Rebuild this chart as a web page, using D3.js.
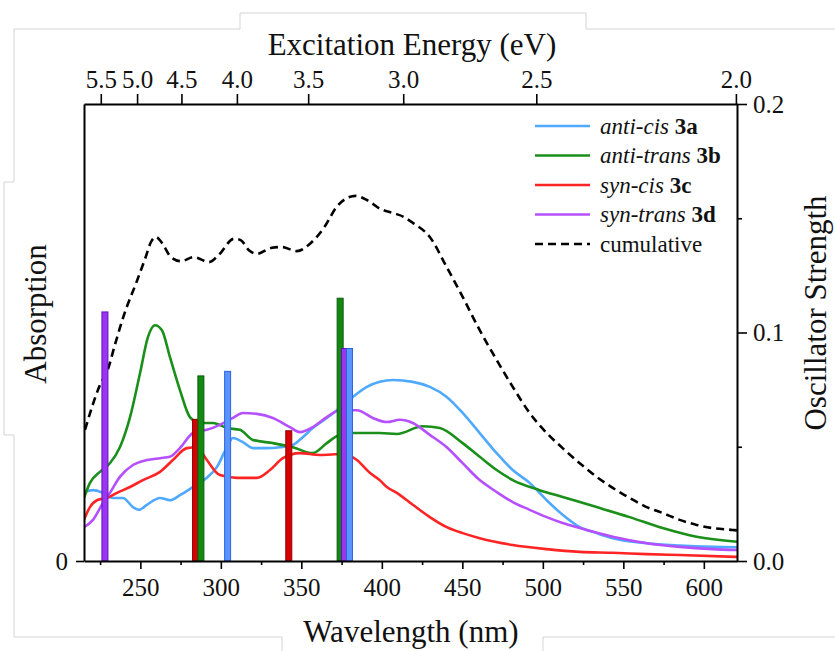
<!DOCTYPE html>
<html><head><meta charset="utf-8">
<script src="https://cdn.jsdelivr.net/npm/d3@7"></script>
<style>
html,body{margin:0;padding:0;background:#fff;}
svg{display:block;}
svg text{font-family:"Liberation Serif","Times New Roman",serif !important;}
</style></head><body>
<svg id="chart" width="835" height="651"></svg>
<script>
// ---------- data ----------
const seriesNames = ["anti-cis", "anti-trans", "syn-cis", "syn-trans", "cumulative"];
const seriesTags  = ["3a", "3b", "3c", "3d", ""];

const antiCisWl  = [215.0,220.6,226.8,233.0,239.2,245.4,249.1,254.1,262.2,268.4,274.6,282.7,291.3,297.6,303.8,307.5,313.7,319.9,328.6,336.7,344.7,350.9,357.1,365.8,373.9,382.0,390.7,398.7,406.8,419.2,429.8,440.3,450.2,460.8,471.3,481.3,491.8,502.4,512.3,522.9,533.4,543.4,564.5,585.0,605.4,620.6];
const antiCisAbs = [0.151,0.155,0.149,0.138,0.138,0.118,0.112,0.123,0.138,0.133,0.144,0.162,0.182,0.206,0.249,0.269,0.260,0.247,0.247,0.249,0.254,0.271,0.291,0.313,0.335,0.359,0.381,0.392,0.396,0.392,0.381,0.359,0.324,0.280,0.236,0.199,0.171,0.133,0.101,0.074,0.061,0.050,0.039,0.034,0.031,0.030];

const antiTransWl  = [215.0,218.7,224.9,231.1,237.3,243.6,249.8,254.7,259.1,263.4,268.4,274.6,280.8,287.0,295.1,303.8,311.8,319.9,332.3,344.7,357.1,365.8,373.9,382.0,398.7,409.3,425.4,436.0,450.2,460.8,471.3,481.3,498.0,512.3,533.4,553.9,574.4,595.5,620.6];
const antiTransAbs = [0.138,0.171,0.195,0.214,0.249,0.315,0.411,0.490,0.516,0.505,0.446,0.374,0.315,0.302,0.302,0.291,0.287,0.265,0.258,0.249,0.236,0.258,0.276,0.280,0.280,0.278,0.295,0.291,0.258,0.228,0.199,0.177,0.155,0.140,0.118,0.096,0.072,0.053,0.042];

const synCisWl  = [215.0,218.7,223.1,229.3,235.5,243.6,251.6,262.2,270.2,278.9,285.1,291.3,299.4,310.0,322.4,330.5,338.5,349.1,361.5,375.8,384.5,392.5,398.7,403.1,409.3,419.2,429.8,440.3,450.2,460.8,481.3,502.4,522.9,543.4,564.5,585.0,620.6];
const synCisAbs = [0.090,0.118,0.133,0.138,0.149,0.162,0.177,0.195,0.221,0.247,0.249,0.221,0.188,0.182,0.182,0.199,0.225,0.236,0.232,0.234,0.221,0.193,0.177,0.162,0.149,0.123,0.096,0.074,0.061,0.050,0.035,0.026,0.020,0.018,0.015,0.013,0.009];

const synTransWl  = [215.0,220.6,226.8,231.1,237.3,245.4,254.1,262.2,268.4,274.6,282.7,291.3,299.4,307.5,313.7,322.4,332.3,342.9,349.1,357.1,365.8,373.9,384.5,394.4,403.1,411.1,419.2,429.8,440.3,450.2,460.8,471.3,481.3,491.8,502.4,512.3,522.9,543.4,564.5,585.0,605.4,620.6];
const synTransAbs = [0.074,0.090,0.127,0.149,0.184,0.210,0.221,0.225,0.228,0.247,0.280,0.287,0.298,0.313,0.324,0.322,0.313,0.293,0.282,0.293,0.315,0.330,0.330,0.313,0.304,0.309,0.302,0.276,0.249,0.214,0.177,0.151,0.129,0.112,0.096,0.083,0.072,0.053,0.039,0.031,0.026,0.024];

const cumulativeWl  = [215.6,224.9,229.9,234.2,239.8,247.9,253.5,256.6,259.7,263.4,269.0,275.2,283.3,292.6,298.8,308.1,312.4,317.4,322.4,331.1,337.9,347.2,355.9,364.0,372.0,378.2,383.8,390.7,399.3,407.4,413.6,419.2,429.8,440.3,450.2,460.8,471.3,481.3,491.8,502.4,512.3,522.9,533.4,543.4,553.9,564.5,574.4,585.0,595.5,605.4,617.8,620.6];
const cumulativeAbs = [0.287,0.385,0.420,0.473,0.538,0.613,0.667,0.698,0.709,0.696,0.665,0.656,0.665,0.654,0.670,0.705,0.702,0.680,0.672,0.685,0.687,0.678,0.696,0.729,0.775,0.794,0.799,0.790,0.770,0.761,0.753,0.740,0.709,0.643,0.578,0.505,0.440,0.381,0.324,0.280,0.247,0.214,0.184,0.160,0.138,0.118,0.105,0.090,0.079,0.072,0.068,0.067];

// oscillator strength sticks
const barWl     = [228.0, 284.3, 287.6, 304.2, 342.2, 374.1, 376.8, 379.9];
const barF      = [0.109, 0.062, 0.081, 0.083, 0.057, 0.115, 0.093, 0.093];
const barSeries = [3, 2, 1, 0, 2, 1, 3, 0];

// ticks
const wlTicks      = [250, 300, 350, 400, 450, 500, 550, 600];
const wlMinorTicks = [225, 275, 325, 375, 425, 475, 525, 575];
const eVTicks      = [5.5, 5.0, 4.5, 4.0, 3.5, 3.0, 2.5, 2.0];
const fTicks       = [0, 0.1, 0.2];
const fMinorTicks  = [0.05, 0.15];
const hc = 1239.84;

// ---------- styles ----------
const lineColors = ["#4ea9ff", "#1a8f1a", "#ff2424", "#b650ff", "#000"];
const barFill    = ["#5a95ff", "#128a12", "#d80000", "#9a35f0"];
const barStroke  = ["#2f63e0", "#0a5a0a", "#8c0000", "#6410c0"];
const FONT = "'Liberation Serif', 'Times New Roman', serif";

const svg = d3.select("#chart");
const L = 84, R = 737, T = 104, B = 561;

const x  = d3.scaleLinear().domain([215, 620.6]).range([L, R]);
const yA = d3.scaleLinear().domain([0, 1]).range([B, T]);
const yF = d3.scaleLinear().domain([0, 0.2]).range([B, T]);

// faint page frame
svg.append("path")
  .attr("d", "M14,637 V435 H4 V182 H14 V29 H240 V13 H586 V29 H835 M14,637 H282 V651 M543,651 V637 H835")
  .attr("fill", "none").attr("stroke", "#d4d4d4").attr("stroke-width", 1);

svg.append("defs").append("clipPath").attr("id", "clip")
  .append("rect").attr("x", L).attr("y", T).attr("width", R - L).attr("height", B - T);

const plot = svg.append("g").attr("clip-path", "url(#clip)");

const series = [
  {wl: antiCisWl, v: antiCisAbs},
  {wl: antiTransWl, v: antiTransAbs},
  {wl: synCisWl, v: synCisAbs},
  {wl: synTransWl, v: synTransAbs},
  {wl: cumulativeWl, v: cumulativeAbs}
];

const line = d3.line().x(d => x(d[0])).y(d => yA(d[1])).curve(d3.curveMonotoneX);

series.forEach((s, i) => {
  plot.append("path")
    .datum(s.wl.map((w, j) => [w, s.v[j]]))
    .attr("d", line)
    .attr("fill", "none")
    .attr("stroke", lineColors[i])
    .attr("stroke-width", 2.6)
    .attr("stroke-dasharray", i === 4 ? "8,5" : null)
    .attr("stroke-linejoin", "round");
});

// bars
const bars = barWl.map((w, i) => ({w, f: barF[i], s: barSeries[i]}));
plot.selectAll("rect.bar").data(bars).enter().append("rect")
  .attr("class", "bar")
  .attr("x", d => x(d.w) - 3)
  .attr("width", 6)
  .attr("y", d => yF(d.f))
  .attr("height", d => yF(0) - yF(d.f))
  .attr("fill", d => barFill[d.s])
  .attr("stroke", d => barStroke[d.s])
  .attr("stroke-width", 1);

// ---------- axes ----------
function styleAxis(g) {
  g.attr("font-family", FONT).attr("font-size", 25);
  g.select(".domain").attr("stroke", "#000").attr("stroke-width", 2);
  g.selectAll(".tick line").attr("stroke", "#000").attr("stroke-width", 1.6);
  g.selectAll("text").attr("fill", "#111");
}

// bottom
const gB = svg.append("g").attr("transform", `translate(0,${B})`)
  .call(d3.axisBottom(x).tickValues(wlTicks).tickSize(8).tickSizeOuter(0).tickPadding(9));
styleAxis(gB);
gB.selectAll(".tick text").attr("dy", null).attr("y", 35);
svg.append("g").attr("transform", `translate(0,${B})`)
  .call(d3.axisBottom(x).tickValues(wlMinorTicks).tickSize(4).tickFormat(""))
  .call(g => { g.select(".domain").remove(); g.selectAll(".tick line").attr("stroke", "#000").attr("stroke-width", 1.6); });

// top (energy)
const gT = svg.append("g").attr("transform", `translate(0,${T})`)
  .call(d3.axisTop(x).tickValues(eVTicks.map(e => hc / e))
    .tickFormat((d, i) => eVTicks[i].toFixed(1)).tickSize(10).tickSizeOuter(0).tickPadding(6));
styleAxis(gT);

// left
const gL = svg.append("g").attr("transform", `translate(${L},0)`)
  .call(d3.axisLeft(yA).tickValues([0]).tickFormat(() => "0").tickSize(8).tickSizeOuter(0).tickPadding(8));
styleAxis(gL);

// right
const gR = svg.append("g").attr("transform", `translate(${R},0)`)
  .call(d3.axisRight(yF).tickValues(fTicks).tickFormat(d3.format(".1f")).tickSize(10).tickSizeOuter(0).tickPadding(6));
styleAxis(gR);
svg.append("g").attr("transform", `translate(${R},0)`)
  .call(d3.axisRight(yF).tickValues(fMinorTicks).tickSize(5).tickFormat(""))
  .call(g => { g.select(".domain").remove(); g.selectAll(".tick line").attr("stroke", "#000").attr("stroke-width", 1.6); });

// ---------- titles ----------
const titleFont = 31;
const titles = svg.append("g").attr("font-family", FONT).attr("font-size", titleFont).attr("fill", "#111");
titles.append("text").attr("x", 412).attr("y", 55).attr("text-anchor", "middle").text("Excitation Energy (eV)");
titles.append("text").attr("x", 411).attr("y", 642).attr("text-anchor", "middle").text("Wavelength (nm)");
titles.append("text").attr("transform", "translate(46,314) rotate(-90)").attr("text-anchor", "middle").text("Absorption");
titles.append("text").attr("transform", "translate(826,313) rotate(-90)").attr("text-anchor", "middle").text("Oscillator Strength");

// ---------- legend ----------
const lg = svg.append("g").attr("font-family", FONT).attr("font-size", 23).attr("fill", "#111");
seriesNames.forEach((name, i) => {
  const yy = 126 + i * 29.5;
  lg.append("line").attr("x1", 535).attr("x2", 590).attr("y1", yy).attr("y2", yy)
    .attr("stroke", lineColors[i]).attr("stroke-width", 2.6)
    .attr("stroke-dasharray", i === 4 ? "8,5" : null);
  const t = lg.append("text").attr("x", 600).attr("y", yy).attr("dy", "0.33em");
  if (seriesTags[i]) {
    t.append("tspan").attr("font-style", "italic").text(name);
    t.append("tspan").text(" ");
    t.append("tspan").attr("font-weight", "bold").text(seriesTags[i]);
  } else {
    t.text(name);
  }
});
</script>
</body></html>
